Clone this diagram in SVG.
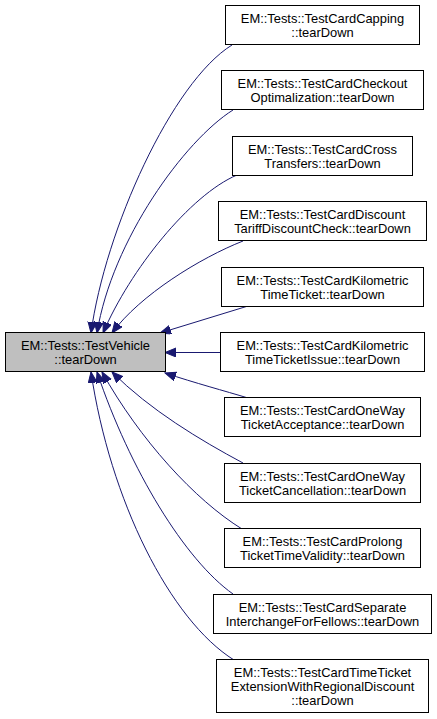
<svg xmlns="http://www.w3.org/2000/svg" width="437" height="719" viewBox="0 0 437 719">
<style>
  .box { fill: #ffffff; stroke: #000000; stroke-width: 1; }
  .src { fill: #bfbfbf; stroke: #000000; stroke-width: 1; }
  .lbl { font-family: "Liberation Sans", Arial, sans-serif; font-size: 12.9px; fill: #000000; text-anchor: middle; }
  .edge { fill: none; stroke: #191970; stroke-width: 1; marker-end: url(#arr); }
</style>
<defs>
  <marker id="arr" markerUnits="userSpaceOnUse" markerWidth="12" markerHeight="10" refX="11" refY="4.5" orient="auto" viewBox="0 0 12 10">
    <path d="M0,0 L11,4.5 L0,9 Z" fill="#191970" stroke="#191970" stroke-width="1"/>
  </marker>
</defs>
<rect width="437" height="719" fill="#ffffff"/>
<g id="connectors">
  <path class="edge" d="M232,45 C172,82 105,230 91,333"/>
  <path class="edge" d="M233,110 C185,140 112,240 97,333"/>
  <path class="edge" d="M237,175 C190,195 130,270 103,333"/>
  <path class="edge" d="M243,241 C200,258 140,295 112,333"/>
  <path class="edge" d="M248,306 L160,333"/>
  <path class="edge" d="M221,352.5 L165,352.5"/>
  <path class="edge" d="M248,398 C225,391 195,383 165,373"/>
  <path class="edge" d="M243,463 C200,440 150,410 112,372"/>
  <path class="edge" d="M242,529 C195,500 140,440 102,372"/>
  <path class="edge" d="M233,594 C185,560 130,470 97,372"/>
  <path class="edge" d="M234,660 C170,620 110,500 91,372"/>
</g>
<g id="source">
  <rect class="src" x="5.5" y="332.5" width="160" height="39"/>
  <text class="lbl" x="85.5" y="350">EM::Tests::TestVehicle</text>
  <text class="lbl" x="85.5" y="364">::tearDown</text>
</g>
<g id="n1">
  <rect class="box" x="225.5" y="5.5" width="194" height="39"/>
  <text class="lbl" x="322.5" y="23">EM::Tests::TestCardCapping</text>
  <text class="lbl" x="322.5" y="37">::tearDown</text>
</g>
<g id="n2">
  <rect class="box" x="221.5" y="70.5" width="202" height="39"/>
  <text class="lbl" x="322.5" y="88">EM::Tests::TestCardCheckout</text>
  <text class="lbl" x="322.5" y="102">Optimalization::tearDown</text>
</g>
<g id="n3">
  <rect class="box" x="232.5" y="136.5" width="180" height="39"/>
  <text class="lbl" x="322.5" y="154">EM::Tests::TestCardCross</text>
  <text class="lbl" x="322.5" y="168">Transfers::tearDown</text>
</g>
<g id="n4">
  <rect class="box" x="218.5" y="201.5" width="208" height="39"/>
  <text class="lbl" x="322.5" y="219">EM::Tests::TestCardDiscount</text>
  <text class="lbl" x="322.5" y="233">TariffDiscountCheck::tearDown</text>
</g>
<g id="n5">
  <rect class="box" x="221.5" y="267.5" width="202" height="39"/>
  <text class="lbl" x="322.5" y="285">EM::Tests::TestCardKilometric</text>
  <text class="lbl" x="322.5" y="299">TimeTicket::tearDown</text>
</g>
<g id="n6">
  <rect class="box" x="220.5" y="332.5" width="204" height="39"/>
  <text class="lbl" x="322.5" y="350">EM::Tests::TestCardKilometric</text>
  <text class="lbl" x="322.5" y="364">TimeTicketIssue::tearDown</text>
</g>
<g id="n7">
  <rect class="box" x="224.5" y="397.5" width="196" height="39"/>
  <text class="lbl" x="322.5" y="415">EM::Tests::TestCardOneWay</text>
  <text class="lbl" x="322.5" y="429">TicketAcceptance::tearDown</text>
</g>
<g id="n8">
  <rect class="box" x="224.5" y="463.5" width="196" height="39"/>
  <text class="lbl" x="322.5" y="481">EM::Tests::TestCardOneWay</text>
  <text class="lbl" x="322.5" y="495">TicketCancellation::tearDown</text>
</g>
<g id="n9">
  <rect class="box" x="224.5" y="528.5" width="196" height="39"/>
  <text class="lbl" x="322.5" y="546">EM::Tests::TestCardProlong</text>
  <text class="lbl" x="322.5" y="560">TicketTimeValidity::tearDown</text>
</g>
<g id="n10">
  <rect class="box" x="213.5" y="594.5" width="218" height="39"/>
  <text class="lbl" x="322.5" y="612">EM::Tests::TestCardSeparate</text>
  <text class="lbl" x="322.5" y="626">InterchangeForFellows::tearDown</text>
</g>
<g id="n11">
  <rect class="box" x="216.5" y="659.5" width="212" height="53"/>
  <text class="lbl" x="322.5" y="677">EM::Tests::TestCardTimeTicket</text>
  <text class="lbl" x="322.5" y="691">ExtensionWithRegionalDiscount</text>
  <text class="lbl" x="322.5" y="705">::tearDown</text>
</g>
</svg>
